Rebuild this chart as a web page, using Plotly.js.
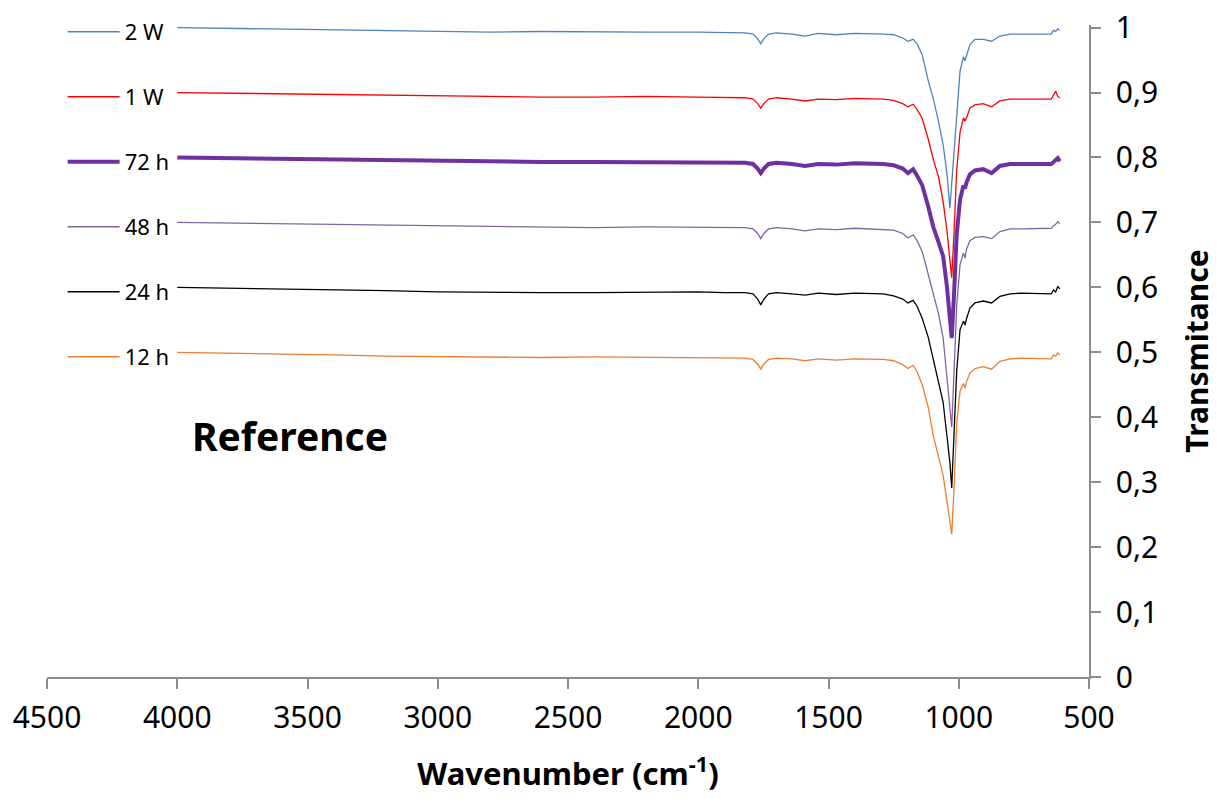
<!DOCTYPE html>
<html>
<head>
<meta charset="utf-8">
<script src="https://cdn.plot.ly/plotly-3.0.1.min.js"></script>
<style>html,body{margin:0;padding:0;background:#fff;}#chart{width:1227px;height:799px;}</style>
</head>
<body>
<div id="chart"></div>
<script>
// Wavenumber grid (cm-1)
const wavenumber = [4000, 3800, 3600, 3400, 3200, 3000, 2800, 2600, 2400, 2200, 2000, 1900, 1820, 1790, 1772, 1760, 1748, 1730, 1700, 1640, 1590, 1540, 1470, 1400, 1340, 1290, 1250, 1215, 1195, 1175, 1160, 1140, 1117, 1097, 1078, 1060, 1045, 1034, 1027, 1018, 1008, 995, 982, 976, 970, 957, 938, 906, 874, 842, 803, 760, 700, 660, 645, 636, 628, 620, 612];

const t2W = [1.000, 0.999, 0.998, 0.997, 0.995, 0.994, 0.993, 0.994, 0.993, 0.993, 0.993, 0.992, 0.992, 0.990, 0.983, 0.975, 0.983, 0.990, 0.992, 0.990, 0.987, 0.991, 0.989, 0.991, 0.991, 0.990, 0.989, 0.984, 0.979, 0.982, 0.975, 0.958, 0.918, 0.889, 0.856, 0.820, 0.774, 0.722, 0.760, 0.810, 0.872, 0.933, 0.955, 0.949, 0.957, 0.974, 0.982, 0.982, 0.979, 0.987, 0.990, 0.990, 0.990, 0.991, 0.990, 0.996, 0.994, 0.998, 0.996];

const t1W = [0.900, 0.899, 0.898, 0.897, 0.895, 0.894, 0.893, 0.893, 0.893, 0.894, 0.893, 0.892, 0.892, 0.890, 0.883, 0.876, 0.883, 0.890, 0.892, 0.890, 0.887, 0.890, 0.889, 0.891, 0.891, 0.890, 0.888, 0.883, 0.878, 0.882, 0.874, 0.860, 0.828, 0.796, 0.771, 0.732, 0.686, 0.645, 0.615, 0.686, 0.780, 0.839, 0.861, 0.856, 0.861, 0.876, 0.881, 0.883, 0.878, 0.887, 0.890, 0.890, 0.890, 0.891, 0.890, 0.896, 0.902, 0.894, 0.892];

const t72h = [0.800, 0.799, 0.798, 0.796, 0.795, 0.794, 0.793, 0.793, 0.793, 0.793, 0.793, 0.792, 0.792, 0.790, 0.783, 0.776, 0.783, 0.790, 0.792, 0.790, 0.787, 0.790, 0.789, 0.791, 0.791, 0.790, 0.788, 0.783, 0.776, 0.782, 0.772, 0.757, 0.724, 0.692, 0.670, 0.648, 0.600, 0.555, 0.522, 0.590, 0.681, 0.735, 0.757, 0.752, 0.762, 0.774, 0.780, 0.782, 0.776, 0.787, 0.790, 0.790, 0.790, 0.791, 0.790, 0.793, 0.797, 0.799, 0.794];

const t48h = [0.700, 0.699, 0.698, 0.697, 0.695, 0.694, 0.693, 0.693, 0.692, 0.693, 0.693, 0.692, 0.692, 0.690, 0.683, 0.675, 0.683, 0.690, 0.692, 0.690, 0.687, 0.690, 0.689, 0.691, 0.690, 0.689, 0.688, 0.683, 0.676, 0.681, 0.672, 0.655, 0.620, 0.587, 0.560, 0.522, 0.461, 0.420, 0.385, 0.470, 0.571, 0.635, 0.653, 0.645, 0.659, 0.672, 0.677, 0.678, 0.675, 0.686, 0.690, 0.690, 0.690, 0.690, 0.691, 0.695, 0.697, 0.701, 0.698];

const t24h = [0.600, 0.599, 0.598, 0.597, 0.595, 0.593, 0.592, 0.592, 0.592, 0.593, 0.593, 0.592, 0.592, 0.590, 0.582, 0.573, 0.582, 0.590, 0.592, 0.590, 0.588, 0.591, 0.589, 0.591, 0.591, 0.590, 0.587, 0.582, 0.576, 0.580, 0.571, 0.552, 0.523, 0.489, 0.456, 0.423, 0.370, 0.330, 0.291, 0.370, 0.470, 0.535, 0.548, 0.542, 0.552, 0.568, 0.576, 0.579, 0.576, 0.586, 0.590, 0.591, 0.591, 0.591, 0.590, 0.596, 0.593, 0.601, 0.598];

const t12h = [0.500, 0.499, 0.497, 0.496, 0.494, 0.493, 0.492, 0.492, 0.493, 0.492, 0.492, 0.491, 0.491, 0.489, 0.482, 0.474, 0.482, 0.489, 0.491, 0.490, 0.487, 0.490, 0.488, 0.490, 0.490, 0.489, 0.487, 0.481, 0.475, 0.480, 0.470, 0.450, 0.415, 0.370, 0.340, 0.310, 0.270, 0.240, 0.220, 0.290, 0.390, 0.440, 0.452, 0.445, 0.455, 0.468, 0.475, 0.478, 0.474, 0.486, 0.490, 0.491, 0.491, 0.491, 0.490, 0.496, 0.494, 0.499, 0.496];

const seriesNames = ['2 W', '1 W', '72 h', '48 h', '24 h', '12 h'];
const xTickVals = [4500, 4000, 3500, 3000, 2500, 2000, 1500, 1000, 500];
const xTickText = ['4500', '4000', '3500', '3000', '2500', '2000', '1500', '1000', '500'];
const yTickVals = [0, 0.1, 0.2, 0.3, 0.4, 0.5, 0.6, 0.7, 0.8, 0.9, 1];
const yTickText = ['0', '0,1', '0,2', '0,3', '0,4', '0,5', '0,6', '0,7', '0,8', '0,9', '1'];

const seriesData = [t2W, t1W, t72h, t48h, t24h, t12h];
const colors = ['#4F81BD', '#FF0000', '#7030A0', '#8064A2', '#000000', '#ED7D31'];
const widths = [1.3, 1.3, 4, 1.3, 1.3, 1.3];

const FONT = 'Noto Sans, Open Sans, sans-serif';

const traces = seriesNames.map((n, i) => ({
  type: 'scatter',
  mode: 'lines',
  name: n,
  legendgroup: 'g' + i,
  x: wavenumber,
  y: seriesData[i],
  line: {color: colors[i], width: widths[i]},
  hoverinfo: 'x+y+name'
}));

const layout = {
  width: 1227,
  height: 799,
  margin: {l: 47, r: 138, t: 24, b: 122, pad: 0},
  paper_bgcolor: '#ffffff',
  plot_bgcolor: '#ffffff',
  font: {family: FONT, color: '#000000', size: 22},
  showlegend: true,
  legend: {
    x: 0.015, xanchor: 'left',
    y: 1.02, yanchor: 'top',
    traceorder: 'grouped',
    tracegroupgap: 33.4,
    itemwidth: 52,
    font: {family: FONT, size: 22, color: '#000'},
    bgcolor: 'rgba(0,0,0,0)',
    borderwidth: 0
  },
  xaxis: {
    range: [4500, 500],
    tickvals: xTickVals,
    ticktext: xTickText,
    showgrid: false,
    zeroline: false,
    showline: true,
    linecolor: '#8c8c8c',
    linewidth: 1.5,
    ticks: 'outside',
    ticklen: 10,
    tickwidth: 1.5,
    tickcolor: '#8c8c8c',
    ticklabelstandoff: 3,
    tickfont: {family: FONT, size: 30, color: '#000'},
    title: {text: '<b>Wavenumber (cm<sup>-1</sup>)</b>', font: {family: FONT, size: 31, color: '#000'}, standoff: 28},
    automargin: false
  },
  yaxis: {
    range: [0, 1.004],
    side: 'right',
    tickvals: yTickVals,
    ticktext: yTickText,
    showgrid: false,
    zeroline: false,
    showline: true,
    linecolor: '#8c8c8c',
    linewidth: 1.5,
    ticks: 'outside',
    ticklen: 10,
    tickwidth: 1.5,
    tickcolor: '#8c8c8c',
    ticklabelstandoff: 9,
    tickfont: {family: FONT, size: 30, color: '#000'},
    title: {text: '<b>Transmitance</b>', font: {family: FONT, size: 30, color: '#000'}, standoff: 30},
    automargin: false
  },
  annotations: [{
    xref: 'paper', yref: 'paper',
    x: 0.233, y: 0.37,
    xanchor: 'center', yanchor: 'middle',
    text: '<b>Reference</b>',
    showarrow: false,
    font: {family: FONT, size: 39, color: '#000'}
  }]
};

Plotly.newPlot('chart', traces, layout, {displayModeBar: false, staticPlot: false});
</script>
</body>
</html>
